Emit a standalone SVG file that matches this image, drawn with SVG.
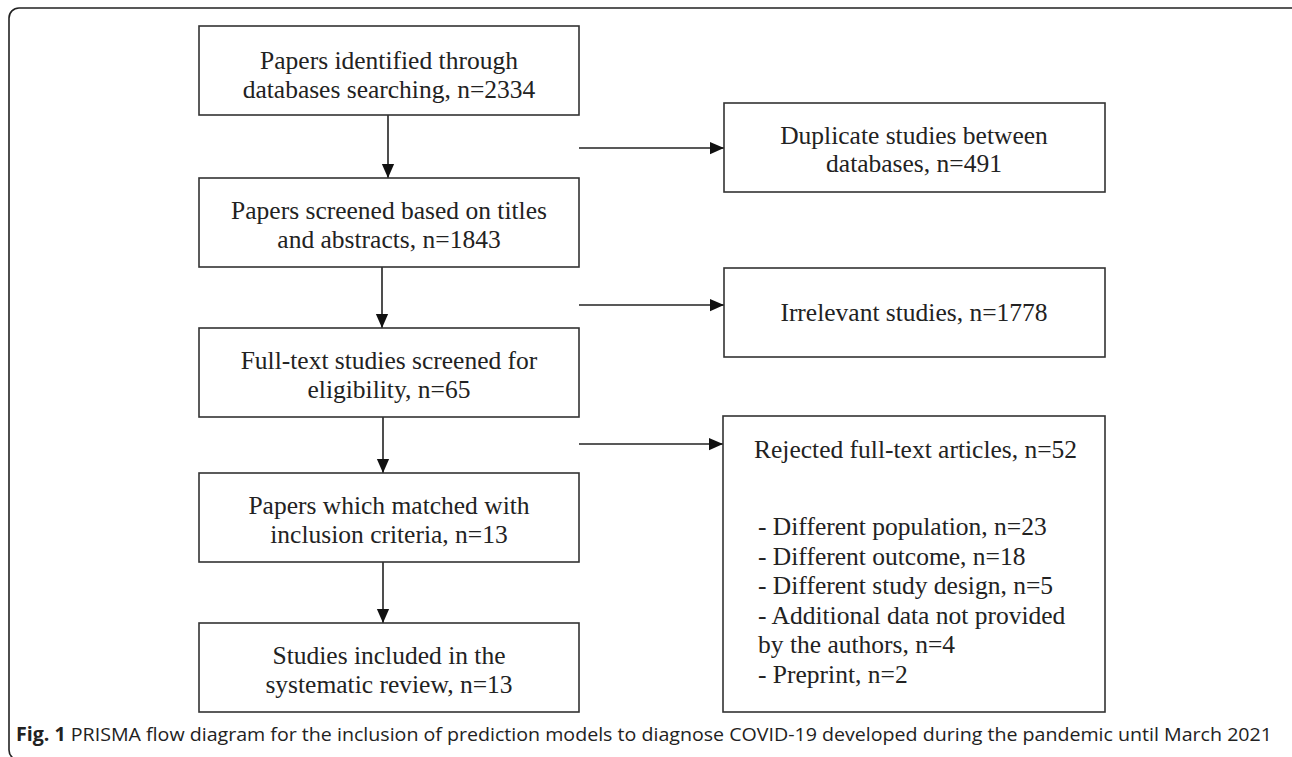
<svg xmlns="http://www.w3.org/2000/svg" width="1292" height="757" viewBox="0 0 1292 757">
<style>
.box{fill:#fff;stroke:#333;stroke-width:1.6}
.t{font-family:"Liberation Serif",serif;font-size:25.5px;fill:#222}
.c{text-anchor:middle}
.ln{stroke:#222;stroke-width:1.6;fill:none}
.cap{font-family:"Open Sans","Noto Sans",sans-serif;font-size:19px;fill:#222}
</style>
<defs>
<marker id="ah" markerWidth="14" markerHeight="16" viewBox="0 0 16 14" refX="16" refY="7" orient="auto" markerUnits="userSpaceOnUse">
<path d="M0,0 L16,7 L0,14 Z" fill="#111"/>
</marker>
</defs>
<rect width="1292" height="757" fill="#fff"/>
<rect x="9" y="8" width="1292" height="752" rx="10" fill="none" stroke="#222" stroke-width="1.6"/>

<g id="connectors">
<line class="ln" x1="388" y1="115" x2="388" y2="178" marker-end="url(#ah)"/>
<line class="ln" x1="382" y1="267" x2="382" y2="328" marker-end="url(#ah)"/>
<line class="ln" x1="383" y1="417" x2="383" y2="473" marker-end="url(#ah)"/>
<line class="ln" x1="383" y1="562" x2="383" y2="623" marker-end="url(#ah)"/>
<line class="ln" x1="579" y1="148" x2="724" y2="148" marker-end="url(#ah)"/>
<line class="ln" x1="579" y1="305" x2="724" y2="305" marker-end="url(#ah)"/>
<line class="ln" x1="579" y1="444" x2="723" y2="444" marker-end="url(#ah)"/>
</g>

<g id="n1">
<rect class="box" x="199" y="26" width="380" height="89"/>
<text class="t c" x="389" y="69">Papers identified through</text>
<text class="t c" x="389" y="98">databases searching, n=2334</text>
</g>
<g id="n2">
<rect class="box" x="199" y="178" width="380" height="89"/>
<text class="t c" x="389" y="219">Papers screened based on titles</text>
<text class="t c" x="389" y="248">and abstracts, n=1843</text>
</g>
<g id="n3">
<rect class="box" x="199" y="328" width="380" height="89"/>
<text class="t c" x="389" y="369">Full-text studies screened for</text>
<text class="t c" x="389" y="398">eligibility, n=65</text>
</g>
<g id="n4">
<rect class="box" x="199" y="473" width="380" height="89"/>
<text class="t c" x="389" y="514">Papers which matched with</text>
<text class="t c" x="389" y="543">inclusion criteria, n=13</text>
</g>
<g id="n5">
<rect class="box" x="199" y="623" width="380" height="89"/>
<text class="t c" x="389" y="664">Studies included in the</text>
<text class="t c" x="389" y="693">systematic review, n=13</text>
</g>
<g id="d1">
<rect class="box" x="724" y="103" width="381" height="89"/>
<text class="t c" x="914" y="144">Duplicate studies between</text>
<text class="t c" x="914" y="172">databases, n=491</text>
</g>
<g id="d2">
<rect class="box" x="724" y="268" width="381" height="89"/>
<text class="t c" x="914" y="321">Irrelevant studies, n=1778</text>
</g>
<g id="d3">
<rect class="box" x="723" y="416" width="382" height="296"/>
<text class="t" x="754" y="458">Rejected full-text articles, n=52</text>
<text class="t" x="758" y="535">- Different population, n=23</text>
<text class="t" x="758" y="564.5">- Different outcome, n=18</text>
<text class="t" x="758" y="594">- Different study design, n=5</text>
<text class="t" x="758" y="623.5">- Additional data not provided</text>
<text class="t" x="758" y="653">by the authors, n=4</text>
<text class="t" x="758" y="682.5">- Preprint, n=2</text>
</g>

<g id="caption">
<text class="cap" x="16" y="741" textLength="1256" lengthAdjust="spacingAndGlyphs"><tspan font-weight="bold">Fig. 1</tspan> PRISMA flow diagram for the inclusion of prediction models to diagnose COVID-19 developed during the pandemic until March 2021</text>
</g>
</svg>
